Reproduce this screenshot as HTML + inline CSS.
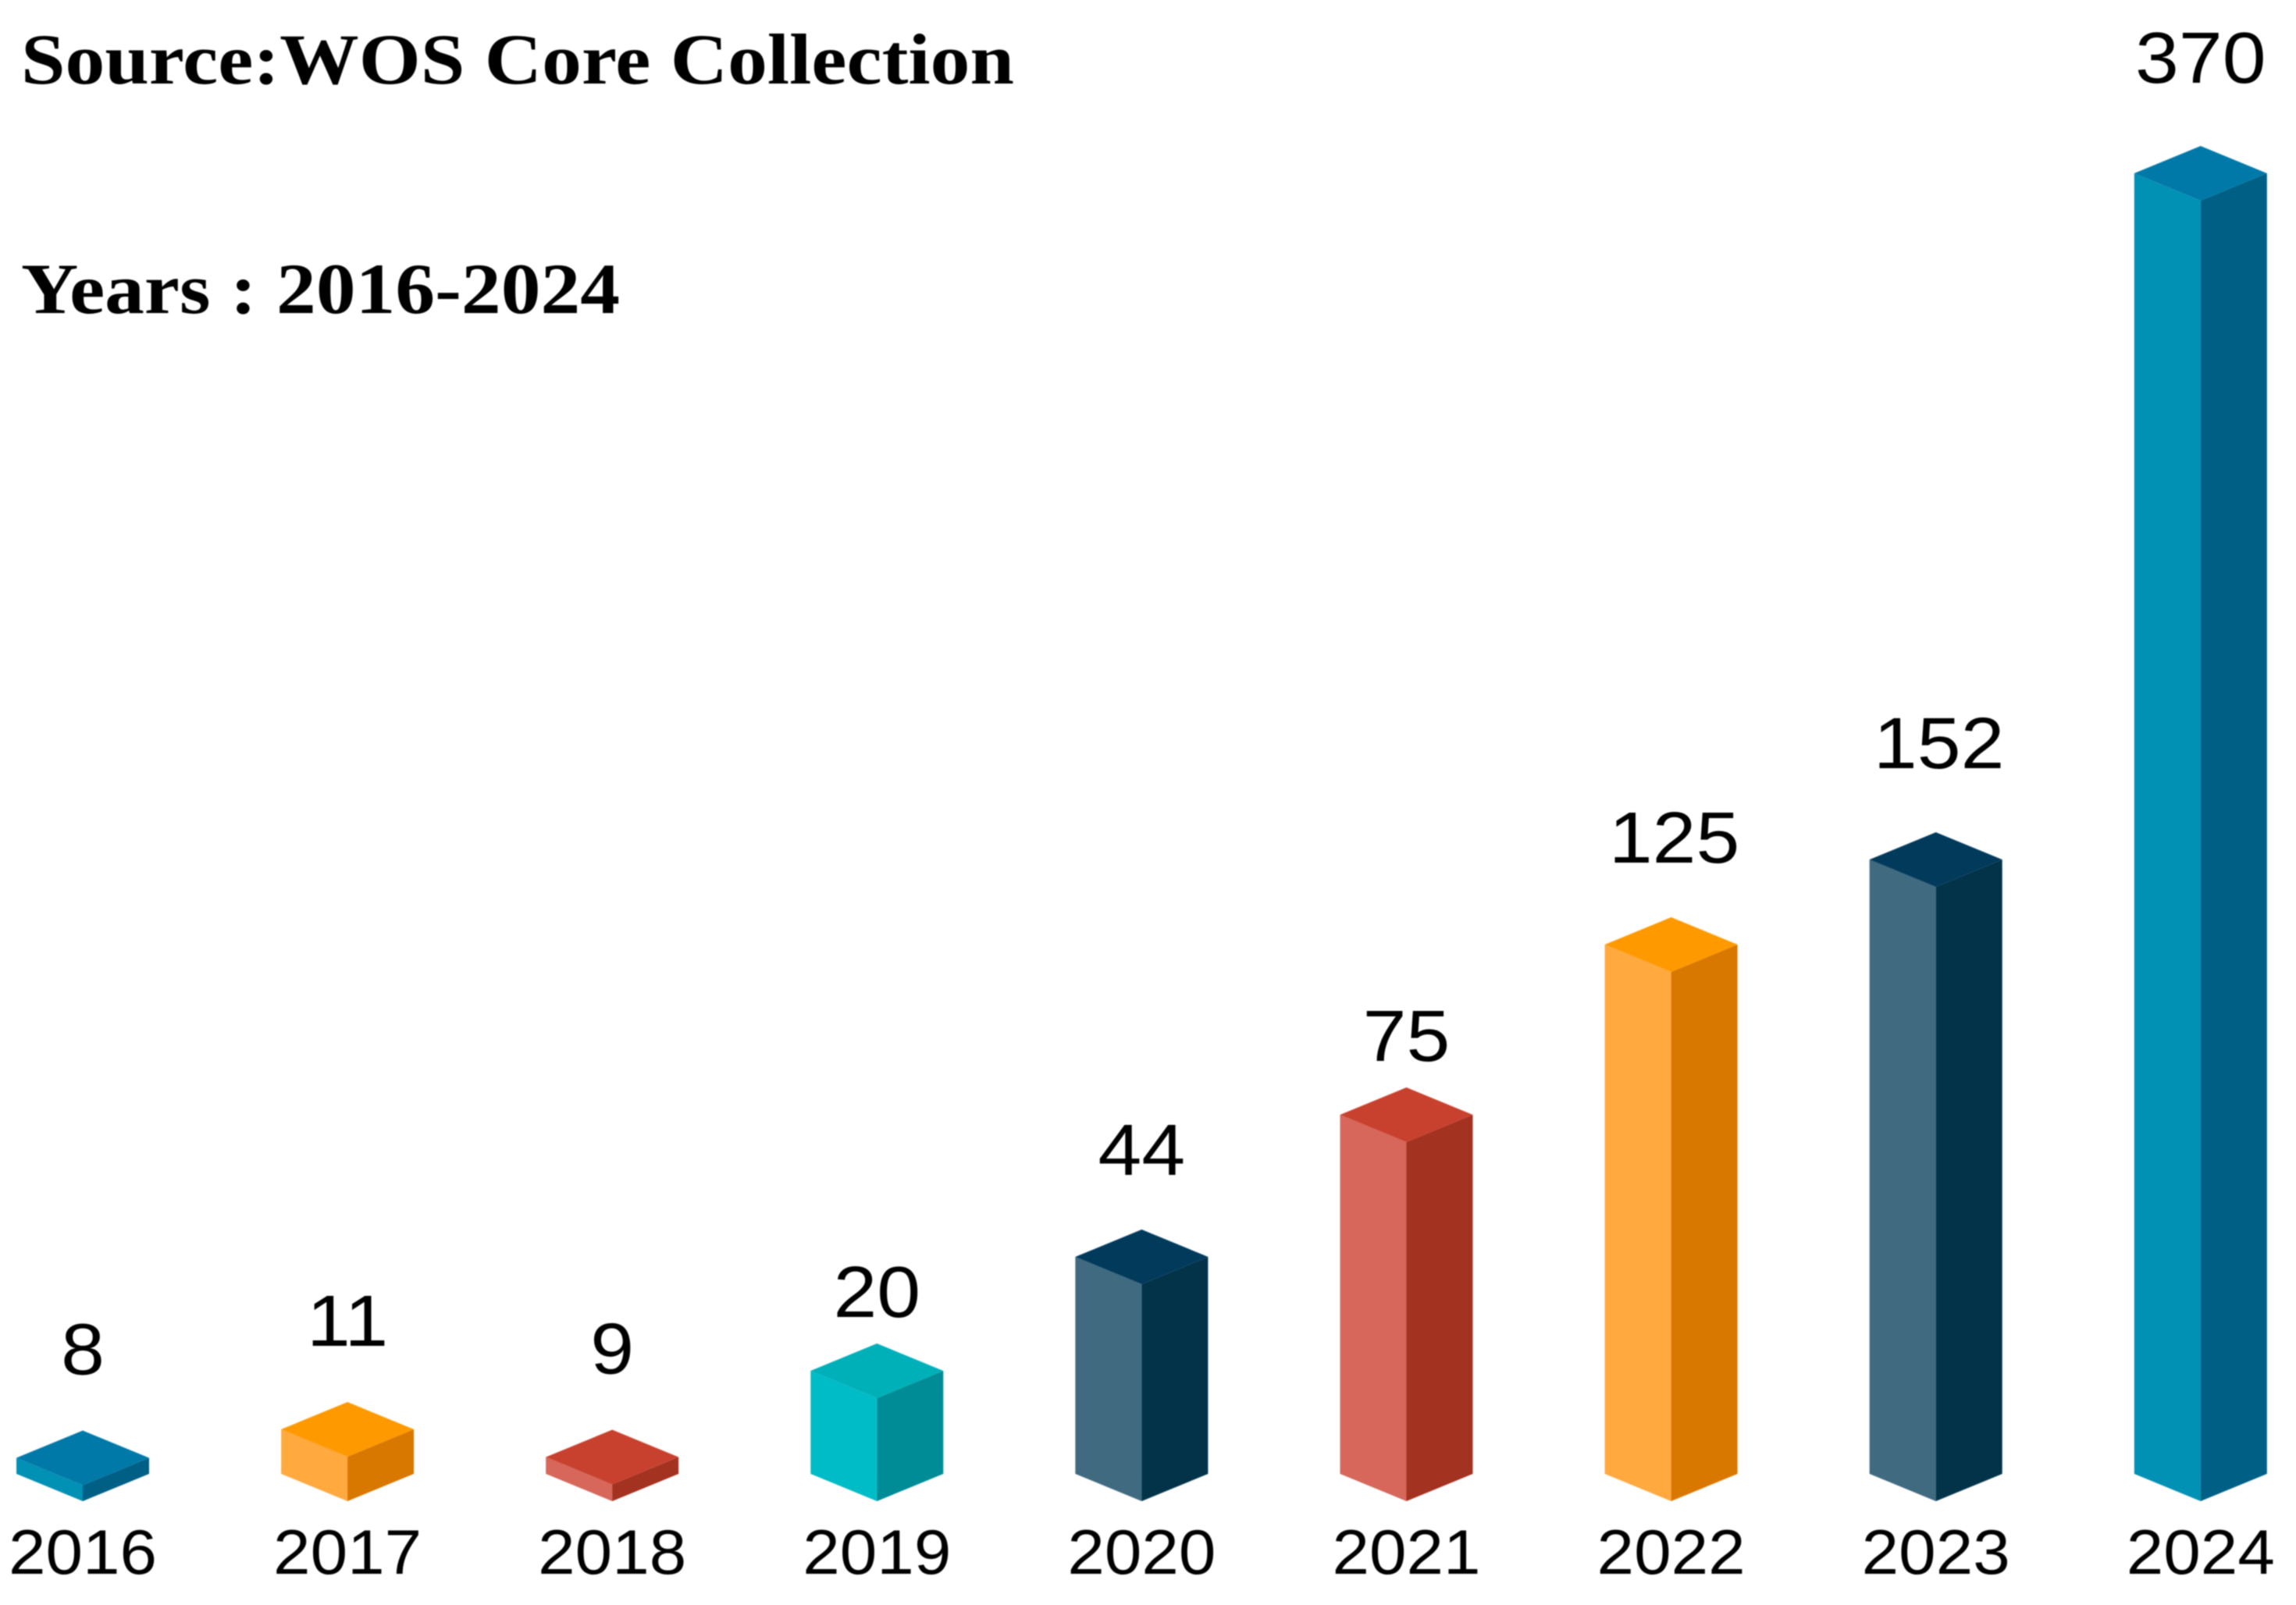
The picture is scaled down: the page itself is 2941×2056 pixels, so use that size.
<!DOCTYPE html>
<html lang="en">
<head>
<meta charset="utf-8">
<title>WOS Core Collection publications per year</title>
<style>
html,body{margin:0;padding:0;background:#fff;}
svg{display:block;filter:blur(0.8px);}
.num{font-family:"Liberation Sans",Arial,sans-serif;fill:#000;text-anchor:middle;}
.head{font-family:"Liberation Serif","Times New Roman",serif;font-weight:700;fill:#000;}
</style>
</head>
<body>
<svg id="chart" xmlns="http://www.w3.org/2000/svg" width="2941" height="2056" viewBox="0 0 2941 2056">
<rect x="0" y="0" width="2941" height="2056" fill="#ffffff"/>
<text class="head" x="27" y="107" font-size="92" textLength="1272" lengthAdjust="spacingAndGlyphs">Source:WOS Core Collection</text>
<text class="head" x="27" y="401" font-size="92" textLength="767" lengthAdjust="spacingAndGlyphs">Years : 2016-2024</text>
<g id="bars"></g>
<g id="value-labels"></g>
<g id="x-axis"></g>
</svg>
<script>
const categories = ['2016','2017','2018','2019','2020','2021','2022','2023','2024'];
const publications = [8,11,9,20,44,75,125,152,370];
const valueLabels = ['8','11','9','20','44','75','125','152','370'];
const paletteNames = ['blue','orange','red','teal','navy','red','orange','navy','blue'];
const labelGaps = [72,72,72,34,70,34,70,82,81];
const labelShifts = [0,0,0,0,0,0,4,4,0];

const palettes = {
  blue:   {top:'#0079a8', left:'#0091b5', right:'#005f85'},
  orange: {top:'#ff9900', left:'#ffa93f', right:'#d97800'},
  red:    {top:'#c8412f', left:'#d6675a', right:'#a33220'},
  teal:   {top:'#00b0b9', left:'#00bcc7', right:'#008c96'},
  navy:   {top:'#023a5c', left:'#3f6a80', right:'#023349'}
};

const NS = 'http://www.w3.org/2000/svg';
const baseY = 1923;
const halfW = 85;
const topH = 35;

// Category axis
function xAxis(i){ return 106 + i * 339.1; }

// The source chart's height axis is non-linear: a polylinear value-to-pixel scale
function yAxis(v){
  const d = [0, 9, 11, 20, 44, 75, 125, 370];
  const r = [12, 21.5, 57, 132, 278, 460, 678, 1666];
  let k = 0;
  while (k < d.length - 2 && v > d[k + 1]) k++;
  const h = r[k] + (v - d[k]) * (r[k + 1] - r[k]) / (d[k + 1] - d[k]);
  return baseY - Math.max(h, 0);
}

function poly(parent, pts, fill){
  const p = document.createElementNS(NS, 'polygon');
  p.setAttribute('points', pts.map(a => a.join(',')).join(' '));
  p.setAttribute('fill', fill);
  parent.appendChild(p);
  return p;
}

function numText(parent, cx, y, size, sx, str){
  const t = document.createElementNS(NS, 'text');
  t.setAttribute('class', 'num');
  t.setAttribute('font-size', size);
  t.setAttribute('transform', 'translate(' + cx + ',' + y + ') scale(' + sx + ',1)');
  t.textContent = str;
  parent.appendChild(t);
  return t;
}

const barsG = document.getElementById('bars');
const labelsG = document.getElementById('value-labels');
const axisG = document.getElementById('x-axis');

categories.forEach(function(year, i){
  const cx = xAxis(i);
  const fy = yAxis(publications[i]);   // y of the top face's front vertex
  const col = palettes[paletteNames[i]];
  const l = cx - halfW, r = cx + halfW;

  const g = document.createElementNS(NS, 'g');
  
  
  barsG.appendChild(g);

  const leftFace = poly(g, [[l, fy - topH], [cx, fy], [cx, baseY], [l, baseY - topH]], col.left);
  
  

  const rightFace = poly(g, [[cx, fy], [r, fy - topH], [r, baseY - topH], [cx, baseY]], col.right);
  
  

  const topFace = poly(g, [[cx, fy - 2 * topH], [r, fy - topH], [cx, fy], [l, fy - topH]], col.top);
  
  

  const val = numText(labelsG, cx + labelShifts[i], fy - 2 * topH - labelGaps[i], 93, 1.08, valueLabels[i]);
  
  

  const tick = numText(axisG, cx, 2016, 81, 1.055, year);
  
  
});
</script>
</body>
</html>
